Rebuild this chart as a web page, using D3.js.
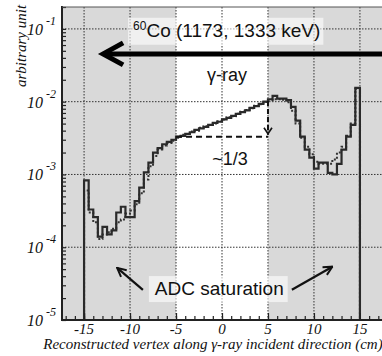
<!DOCTYPE html>
<html>
<head>
<meta charset="utf-8">
<script src="https://cdn.jsdelivr.net/npm/d3@7"></script>
<style>
  body { margin: 0; background: #fff; }
  svg { display: block; }
</style>
</head>
<body>
<svg id="chart" width="382" height="356"></svg>
<script>
// histogram bins: 0.5 cm wide, starting at -15 cm
var binStart = -15, binWidth = 0.5;

// measured (solid)
var dataCounts = [
  8.3e-4, 3.3e-4, 2.6e-4, 1.4e-4, 1.9e-4, 1.5e-4, 1.7e-4, 3.0e-4, 3.6e-4, 2.6e-4,
  2.6e-4, 4.3e-4, 6.6e-4, 1.07e-3, 1.45e-3, 2.0e-3, 2.3e-3, 2.6e-3, 2.8e-3, 3.0e-3,
  3.3e-3, 3.4e-3, 3.6e-3, 3.8e-3, 4.1e-3, 4.3e-3, 4.5e-3, 4.8e-3, 5.1e-3, 5.3e-3,
  5.7e-3, 6.0e-3, 6.4e-3, 6.8e-3, 7.2e-3, 7.6e-3, 8.2e-3, 8.7e-3, 9.3e-3, 1.0e-2,
  1.08e-2, 1.2e-2, 1.1e-2, 1.1e-2, 1.05e-2, 8.5e-3, 5.5e-3, 3.3e-3, 2.2e-3, 1.7e-3,
  1.2e-3, 1.45e-3, 1.45e-3, 1.05e-3, 1.0e-3, 1.4e-3, 2.2e-3, 3.3e-3, 4.8e-3, 1.55e-2
];

// simulation (dotted)
var simCounts = [
  6.0e-4, 3.0e-4, 2.2e-4, 1.3e-4, 1.5e-4, 1.6e-4, 1.8e-4, 2.2e-4, 2.4e-4, 2.9e-4,
  3.2e-4, 3.9e-4, 5.5e-4, 8.5e-4, 1.3e-3, 1.8e-3, 2.2e-3, 2.5e-3, 2.7e-3, 2.9e-3,
  3.2e-3, 3.5e-3, 3.6e-3, 3.9e-3, 4.0e-3, 4.4e-3, 4.6e-3, 4.8e-3, 5.0e-3, 5.4e-3,
  5.7e-3, 6.1e-3, 6.3e-3, 6.8e-3, 7.3e-3, 7.7e-3, 8.1e-3, 8.8e-3, 9.2e-3, 9.9e-3,
  1.05e-2, 1.08e-2, 1.08e-2, 1.06e-2, 9.8e-3, 7.5e-3, 5.0e-3, 3.2e-3, 2.4e-3, 1.9e-3,
  1.5e-3, 1.4e-3, 1.4e-3, 1.4e-3, 1.6e-3, 2.0e-3, 2.4e-3, 3.4e-3, 5.0e-3, 1.5e-2
];

var xTicks = [-15, -10, -5, 0, 5, 10, 15];
var yDecades = [-5, -4, -3, -2, -1];
var shadedRanges = [[-17.4, -5], [5, 17.4]];

var svg = d3.select("#chart");
var pLeft = 62, pTop = 7, pBottom = 320, pRight = 382;

var x = d3.scaleLinear().domain([-17.4, 17.4]).range([pLeft, pRight]);
var y = d3.scaleLog().domain([1e-5, 0.2]).range([pBottom, pTop]);

var serif = "'Liberation Serif', 'DejaVu Serif', serif";
var sans = "'Liberation Sans', Arial, sans-serif";

// background
svg.selectAll("rect.shade")
  .data(shadedRanges)
  .enter()
  .append("rect")
    .attr("class", "shade")
    .attr("x", d => x(d[0]))
    .attr("y", pTop)
    .attr("width", d => x(d[1]) - x(d[0]))
    .attr("height", pBottom - pTop)
    .attr("fill", "#d9d9d9");

// grid
svg.selectAll("line.vgrid")
  .data(xTicks)
  .enter()
  .append("line")
    .attr("x1", d => x(d)).attr("x2", d => x(d))
    .attr("y1", pTop).attr("y2", pBottom)
    .attr("stroke", "#333")
    .attr("stroke-width", 1)
    .attr("stroke-dasharray", "1.5,1.5");

svg.selectAll("line.hgrid")
  .data(yDecades.slice(1))
  .enter()
  .append("line")
    .attr("x1", pLeft).attr("x2", pRight)
    .attr("y1", d => y(Math.pow(10, d))).attr("y2", d => y(Math.pow(10, d)))
    .attr("stroke", "#333")
    .attr("stroke-width", 1)
    .attr("stroke-dasharray", "1.5,1.5");

// histograms
function histPoints(counts) {
  var pts = [[binStart, 1e-5]];
  counts.forEach((v, i) => pts.push([binStart + i * binWidth, v]));
  var end = binStart + counts.length * binWidth;
  pts.push([end, counts[counts.length - 1]]);
  pts.push([end, 1e-5]);
  return pts;
}

var histLine = d3.line()
  .x(d => x(d[0]))
  .y(d => y(d[1]))
  .curve(d3.curveStepAfter);

svg.append("path")
  .attr("d", histLine(histPoints(simCounts)))
  .attr("fill", "none")
  .attr("stroke", "#333")
  .attr("stroke-width", 2)
  .attr("stroke-dasharray", "2,2");

svg.append("path")
  .attr("d", histLine(histPoints(dataCounts)))
  .attr("fill", "none")
  .attr("stroke", "#2a2a2a")
  .attr("stroke-width", 2.2);

// axes
var xAxis = d3.axisTop(x)
  .tickValues(d3.range(-17, 18, 1))
  .tickSize(4)
  .tickFormat("");
svg.append("g").attr("transform", `translate(0,${pBottom})`).call(xAxis);

var xAxisMajor = d3.axisTop(x).tickValues(xTicks).tickSize(7).tickFormat("");
svg.append("g").attr("transform", `translate(0,${pBottom})`).call(xAxisMajor);

var minorY = [];
yDecades.forEach(k => { for (var m = 1; m < 10; m++) { var v = m * Math.pow(10, k); if (v <= 0.2) minorY.push(v); } });
var yAxis = d3.axisRight(y).tickValues(minorY).tickSize(4).tickFormat("");
svg.append("g").attr("transform", `translate(${pLeft},0)`).call(yAxis);

svg.selectAll("g .domain").remove();
svg.selectAll("g .tick line").attr("stroke", "#222").attr("stroke-width", 1.2);

// frame
svg.append("line").attr("x1", pLeft).attr("x2", pLeft).attr("y1", pTop - 1).attr("y2", pBottom + 1)
  .attr("stroke", "#222").attr("stroke-width", 2);
svg.append("line").attr("x1", pLeft).attr("x2", pRight).attr("y1", pBottom).attr("y2", pBottom)
  .attr("stroke", "#222").attr("stroke-width", 2);
svg.append("line").attr("x1", pLeft).attr("x2", pRight).attr("y1", pTop).attr("y2", pTop)
  .attr("stroke", "#555").attr("stroke-width", 1);

// tick labels
svg.selectAll("text.xlab")
  .data(xTicks)
  .enter()
  .append("text")
    .attr("x", d => x(d))
    .attr("y", 334)
    .attr("text-anchor", "middle")
    .attr("font-family", serif)
    .attr("font-style", "italic")
    .attr("font-size", 15)
    .attr("fill", "#111")
    .text(d => d);

var ylab = svg.selectAll("text.ylab")
  .data(yDecades)
  .enter()
  .append("text")
    .attr("x", 27)
    .attr("y", d => y(Math.pow(10, d)) + 6)
    .attr("font-family", serif)
    .attr("font-style", "italic")
    .attr("font-size", 16)
    .attr("fill", "#111");
ylab.append("tspan").text("10");
ylab.append("tspan").attr("dx", 3).attr("dy", -10).attr("font-size", 12).text(d => d);

// axis titles
svg.append("text")
  .attr("x", 213)
  .attr("y", 349)
  .attr("text-anchor", "middle")
  .attr("font-family", serif)
  .attr("font-style", "italic")
  .attr("font-size", 15)
  .attr("fill", "#111")
  .text("Reconstructed vertex along γ-ray incident direction (cm)");

svg.append("text")
  .attr("transform", "translate(26,46) rotate(-90)")
  .attr("text-anchor", "middle")
  .attr("font-family", serif)
  .attr("font-style", "italic")
  .attr("font-size", 15)
  .attr("fill", "#111")
  .text("arbitrary unit");

// annotations (in data units)
var coLabel = { x: -9.67, y: 0.078 };
var arrowY = 0.0453, arrowTip = -12.93;
var gammaLabel = { x: 0.54, y: 0.0193 };
var thirdLabel = { x: 0.87, y: 1.35e-3 };
var adcLabel = { x: -7.3, y: 2.2e-5 };
var adcArrows = [
  { from: [-8.6, 2.6e-5], to: [-11.4, 5.2e-5] },
  { from: [7.6, 2.6e-5], to: [12.0, 5.4e-5] }
];

// Co label box + text
var coG = svg.append("g");
var coBox = coG.append("rect").attr("fill", "#fff").attr("fill-opacity", 0.6);
var coText = coG.append("text")
  .attr("x", x(coLabel.x))
  .attr("y", y(coLabel.y))
  .attr("font-family", sans)
  .attr("font-size", 19)
  .attr("fill", "#111");
coText.append("tspan").attr("font-size", 12).attr("dy", -7).text("60");
coText.append("tspan").attr("dy", 7).text("Co (1173, 1333 keV)");
var bb = coText.node().getBBox();
coBox.attr("x", bb.x - 5).attr("y", bb.y - 1).attr("width", bb.width + 8).attr("height", bb.height + 5);

// big arrow
svg.append("line")
  .attr("x1", x(arrowTip) + 2).attr("x2", pRight)
  .attr("y1", y(arrowY)).attr("y2", y(arrowY))
  .attr("stroke", "#000").attr("stroke-width", 5);
svg.append("path")
  .attr("d", `M${x(arrowTip) + 20},${y(arrowY) - 11} L${x(arrowTip)},${y(arrowY)} L${x(arrowTip) + 20},${y(arrowY) + 11}`)
  .attr("fill", "none").attr("stroke", "#000").attr("stroke-width", 5)
  .attr("stroke-linejoin", "miter");

svg.append("text")
  .attr("x", x(gammaLabel.x)).attr("y", y(gammaLabel.y))
  .attr("text-anchor", "middle")
  .attr("font-family", sans).attr("font-size", 18).attr("fill", "#111")
  .text("γ-ray");

// ~1/3 dashed guides
var dropTop = 1.02e-2, dropBottom = 3.3e-3;
svg.append("line")
  .attr("x1", x(-5)).attr("x2", x(5))
  .attr("y1", y(dropBottom)).attr("y2", y(dropBottom))
  .attr("stroke", "#111").attr("stroke-width", 2).attr("stroke-dasharray", "6,4");
svg.append("line")
  .attr("x1", x(5)).attr("x2", x(5))
  .attr("y1", y(dropTop)).attr("y2", y(dropBottom) - 2)
  .attr("stroke", "#111").attr("stroke-width", 2).attr("stroke-dasharray", "5,3");
svg.append("path")
  .attr("d", `M${x(5) - 4},${y(dropBottom) - 9} L${x(5)},${y(dropBottom) - 3} L${x(5) + 4},${y(dropBottom) - 9}`)
  .attr("fill", "none").attr("stroke", "#111").attr("stroke-width", 1.6);

svg.append("text")
  .attr("x", x(thirdLabel.x)).attr("y", y(thirdLabel.y))
  .attr("text-anchor", "middle")
  .attr("font-family", sans).attr("font-size", 18).attr("fill", "#111")
  .text("~1/3");

// ADC saturation
var adcG = svg.append("g");
var adcBox = adcG.append("rect").attr("fill", "#fff").attr("fill-opacity", 0.6);
var adcText = adcG.append("text")
  .attr("x", x(adcLabel.x)).attr("y", y(adcLabel.y))
  .attr("font-family", sans).attr("font-size", 19).attr("fill", "#111")
  .text("ADC saturation");
var bb2 = adcText.node().getBBox();
adcBox.attr("x", bb2.x - 6).attr("y", bb2.y - 2).attr("width", bb2.width + 10).attr("height", bb2.height + 5);

svg.append("defs").append("marker")
  .attr("id", "head")
  .attr("viewBox", "0 0 10 10")
  .attr("refX", 9).attr("refY", 5)
  .attr("markerWidth", 5).attr("markerHeight", 5)
  .attr("orient", "auto")
  .append("path")
    .attr("d", "M1,1 L9,5 L1,9")
    .attr("fill", "none").attr("stroke", "#111").attr("stroke-width", 1.8);

svg.selectAll("line.adc")
  .data(adcArrows)
  .enter()
  .append("line")
    .attr("x1", d => x(d.from[0])).attr("y1", d => y(d.from[1]))
    .attr("x2", d => x(d.to[0])).attr("y2", d => y(d.to[1]))
    .attr("stroke", "#111").attr("stroke-width", 2.2)
    .attr("marker-end", "url(#head)");
</script>
</body>
</html>
